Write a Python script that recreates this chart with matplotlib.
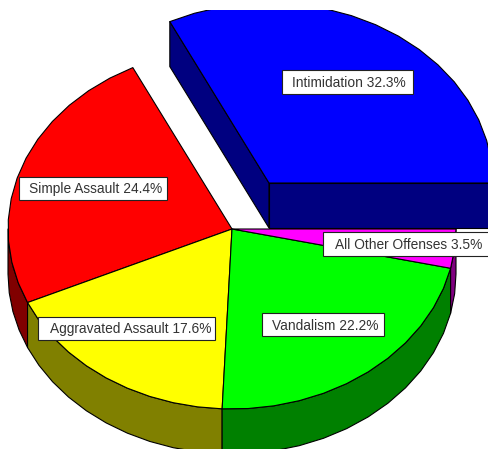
import numpy as np
from matplotlib import pyplot as plt
from matplotlib.patches import Polygon, Rectangle

# Slices, counter-clockwise from the 3 o'clock position
categories = ['Intimidation', 'Simple Assault', 'Aggravated Assault', 'Vandalism', 'All Other Offenses']
shares = [32.3, 24.4, 17.6, 22.2, 3.5]
top_colors = ['#0000ff', '#ff0000', '#ffff00', '#00ff00', '#ff00ff']
side_colors = ['#000080', '#800000', '#808000', '#008000', '#800080']

# Pie geometry, in image pixels
cx, cy = 232, 229
rx, ry = 224, 180
depth = 45
explode = (37, -46)   # only the first slice is pulled out
clip_top = 10

# Label boxes: left, top, right, bottom, then where the text starts
label_boxes = [(282, 70, 413, 94), (19, 177, 167, 200), (38, 317, 215, 340),
               (262, 313, 384, 336), (323, 232, 492, 256)]
text_left = [292, 29, 50, 272, 335]

fig = plt.figure(figsize=(4.89, 4.49), dpi=100)
ax = fig.add_axes([0, 0, 1, 1])
ax.set_xlim(0, 489)
ax.set_ylim(449, 0)
ax.axis('off')


def rim(a0, a1, x0, y0):
    # the rim is a polyline, slightly faceted like the original
    n = max(int(np.ceil((a1 - a0) / 7)), 1)
    t = np.radians(np.linspace(a0, a1, n + 1))
    return np.column_stack([x0 + rx * np.cos(t), y0 - ry * np.sin(t)])


def add_poly(pts, color):
    p = Polygon(pts, closed=True, facecolor=color, edgecolor='black', linewidth=0.8, joinstyle='round')
    ax.add_patch(p)
    p.set_clip_path(Rectangle((0, clip_top), 489, 449 - clip_top, transform=ax.transData))


edges = np.concatenate([[0], np.cumsum(shares)]) / sum(shares) * 360
for i in range(len(shares)):
    a0, a1 = edges[i], edges[i + 1]
    x0, y0 = cx, cy
    if i == 0:
        x0, y0 = cx + explode[0], cy + explode[1]
    # outer wall, front half only
    lo, hi = max(a0, 180), a1
    if hi > lo:
        arc = rim(lo, hi, x0, y0)
        add_poly(np.vstack([arc, arc[::-1] + [0, depth]]), side_colors[i])
    # cut faces of the exploded slice
    if i == 0:
        start = rim(a0, a0, x0, y0)[0]
        end = rim(a1, a1, x0, y0)[0]
        add_poly([(x0, y0), end, end + [0, depth], (x0, y0 + depth)], side_colors[i])
        add_poly([(x0, y0), start, start + [0, depth], (x0, y0 + depth)], side_colors[i])
    add_poly(np.vstack([[(x0, y0)], rim(a0, a1, x0, y0)]), top_colors[i])

for name, share, box, tx in zip(categories, shares, label_boxes, text_left):
    l, t, r, b = box
    ax.add_patch(Rectangle((l, t), r - l, b - t, facecolor='white', edgecolor='#222222', linewidth=0.8, zorder=5))
    ax.text(tx, (t + b) / 2 + 1, f'{name} {share}%', ha='left', va='center',
            family='Liberation Sans', fontsize=9.9, color='#333333', zorder=6)

fig.savefig('out.png', dpi=100)
